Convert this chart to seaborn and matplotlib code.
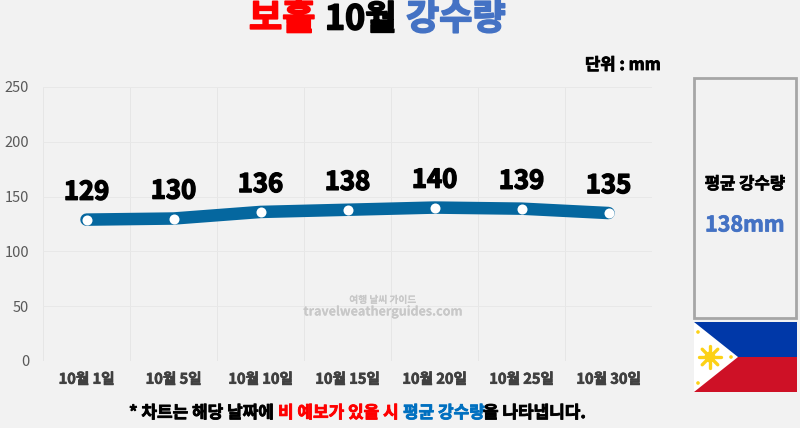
import matplotlib
matplotlib.use("Agg")
import matplotlib.pyplot as plt
import matplotlib.patheffects as pe
from matplotlib.patches import Polygon, Rectangle, Circle
import numpy as np
import pandas as pd
import seaborn as sns

days = ["10월 1일", "10월 5일", "10월 10일", "10월 15일", "10월 20일", "10월 25일", "10월 30일"]
rain = [129, 130, 136, 138, 140, 139, 135]
yticks = [0, 50, 100, 150, 200, 250]

bg = "#f2f2f2"
W, H = 800, 428
KR = ["Noto Sans CJK KR", "DejaVu Sans"]

sns.set_theme(style="whitegrid")
plt.rcParams["font.family"] = KR


# the font stops at bold, so thicken it with a stroke of the same colour
def heavy(color, w=0.7):
    return [pe.withStroke(linewidth=w, foreground=color)]


df = pd.DataFrame({"day": days, "rain": rain})

fig = plt.figure(figsize=(8, 4.28), dpi=100, facecolor=bg)
ax = fig.add_axes([43 / W, 1 - 361 / H, (652 - 43) / W, (361 - 87) / H], facecolor=bg)

sns.lineplot(data=df, x="day", y="rain", sort=False, color="#05679f", linewidth=9,
             solid_capstyle="round", ax=ax, zorder=3)
sns.scatterplot(data=df, x="day", y="rain", color="white", s=52, linewidth=0, ax=ax, zorder=4)

ax.set_xlim(-0.5, 6.5)
ax.set_ylim(0, 250)
ax.set_yticks(yticks)
ax.set_xticks(np.arange(-0.5, 7), minor=True)
ax.set_xticks(range(7))
ax.set_xticklabels(days, fontsize=10.5, fontweight="bold", color="#404040",
                   path_effects=heavy("#404040", 0.5))
ax.set_yticklabels(yticks, fontsize=10.5, fontweight="medium", color="#595959")
ax.set_xlabel("")
ax.set_ylabel("")
ax.grid(False)
ax.grid(True, which="minor", axis="x", color="#e6e6e6", linewidth=0.7)
ax.grid(True, which="major", axis="y", color="#e8e8e8", linewidth=0.7)
ax.tick_params(axis="both", which="both", length=0)
ax.tick_params(axis="x", pad=7)
ax.tick_params(axis="y", pad=10)
sns.despine(ax=ax, left=True, bottom=True, top=True, right=True)

for i, v in enumerate(rain):
    ax.annotate(str(v), (i, v), xytext=(0, 10), textcoords="offset points", ha="center",
                va="bottom", fontsize=18.5, fontweight="bold", color="black", zorder=5,
                path_effects=heavy("black", 1.0))


def txt(x, y, s, w=0.6, **kw):
    fig.text(x / W, 1 - y / H, s, va="center", path_effects=heavy(kw["color"], w),
             fontweight="bold", **kw)


# title, three colours
txt(249, 19, "보홀", w=1.2, color="#ff0000", fontsize=26)
txt(325, 19, "10월", w=1.2, color="black", fontsize=24.5)
txt(406, 19, "강수량", w=1.2, color="#4472c4", fontsize=26)

txt(585, 65, "단위 : mm", color="black", fontsize=12)

# watermark
txt(383, 300, "여행 날씨 가이드", w=0, color="#c8c8c8", fontsize=7, ha="center")
txt(383, 312, "travelweatherguides.com", w=0, color="#c8c8c8", fontsize=9, ha="center")

# footnote
txt(129, 413, "* 차트는 해당 날짜에", color="black", fontsize=12.2)
txt(278, 413, "비 예보가 있을 시", color="#ff0000", fontsize=12.2)
txt(403, 413, "평균 강수량", color="#0070c0", fontsize=12.2)
txt(483, 413, "을 나타냅니다.", color="black", fontsize=12.2)

# side panel and flag, in pixels
over = fig.add_axes([0, 0, 1, 1], facecolor="none")
over.set_xlim(0, W)
over.set_ylim(H, 0)
over.axis("off")
over.add_patch(Rectangle((694, 78), 102, 240, fill=False, edgecolor="#a6a6a6", linewidth=2))
over.text(745, 184, "평균 강수량", ha="center", va="center", fontsize=12, fontweight="bold",
          color="black", path_effects=heavy("black", 0.5))
over.text(745, 225, "138mm", ha="center", va="center", fontsize=15.5, fontweight="bold",
          color="#4472c4", path_effects=heavy("#4472c4", 0.5))

over.add_patch(Rectangle((694, 322), 103, 35, facecolor="#0038a8", edgecolor="none"))
over.add_patch(Rectangle((694, 357), 103, 35, facecolor="#ce1126", edgecolor="none"))
over.add_patch(Polygon([(694, 322), (738, 357), (694, 392)], facecolor="white", edgecolor="none"))
for a in np.arange(0, 360, 45):
    dx, dy = np.cos(np.radians(a)), np.sin(np.radians(a))
    over.plot([710 + 5 * dx, 710 + 11 * dx], [357 + 5 * dy, 357 + 11 * dy], color="#fcd116",
              linewidth=2.4)
over.add_patch(Circle((710, 357), 5.5, facecolor="#fcd116", edgecolor="none"))
for sx, sy in [(698, 332), (731, 357), (698, 383)]:
    over.add_patch(Circle((sx, sy), 1.8, facecolor="#fcd116", edgecolor="none"))

fig.savefig("out.png", dpi=100, facecolor=bg)
